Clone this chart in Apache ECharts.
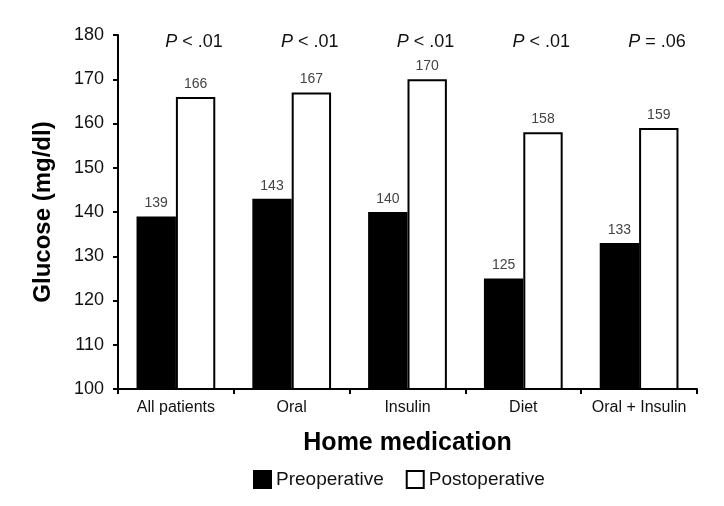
<!DOCTYPE html>
<html><head><meta charset="utf-8">
<script src="https://cdn.jsdelivr.net/npm/echarts@6/dist/echarts.min.js"></script>
<style>html,body{margin:0;padding:0;background:#fff}#c{width:724px;height:506px}</style>
</head><body><div id="c"></div>
<script>
const categories = ['All patients', 'Oral', 'Insulin', 'Diet', 'Oral + Insulin'];
const preoperative = [139, 143, 140, 125, 133];
const postoperative = [166, 167, 170, 158, 159];
const pValues = ['< .01', '< .01', '< .01', '< .01', '= .06'];
const yTicks = [100, 110, 120, 130, 140, 150, 160, 170, 180];

const FONT = '"Liberation Sans", Arial, sans-serif';
const chart = echarts.init(document.getElementById('c'));
chart.setOption({
  animation: false,
  textStyle: { fontFamily: FONT },
  grid: { left: 118, right: 27, top: 35, bottom: 117 },
  legend: {
    bottom: 12, left: 248, itemWidth: 17, itemHeight: 17, itemGap: 22,
    icon: 'rect',
    textStyle: { fontSize: 19, color: '#111', fontFamily: FONT },
    data: ['Preoperative', 'Postoperative']
  },
  xAxis: [{
    type: 'category', data: categories,
    name: 'Home medication', nameLocation: 'middle', nameGap: 42,
    nameTextStyle: { fontSize: 25, fontWeight: 'bold', color: '#000', fontFamily: FONT },
    axisLine: { lineStyle: { color: '#000', width: 2 } },
    axisTick: { show: true, interval: 0, length: 5, lineStyle: { color: '#000', width: 2 } },
    axisLabel: { interval: 0, fontSize: 16, color: '#111', margin: 11, hideOverlap: false }
  }, {
    type: 'category', data: pValues, position: 'top',
    axisLine: { show: false }, axisTick: { show: false },
    axisLabel: {
      interval: 0,
      margin: -16, fontSize: 18, color: '#111',
      padding: [0, 0, 0, 36],
      formatter: v => '{p|P} ' + v,
      rich: { p: { fontStyle: 'italic', fontSize: 18, color: '#111' } }
    }
  }],
  yAxis: {
    type: 'value', min: yTicks[0], max: yTicks[yTicks.length - 1], interval: 10,
    name: 'Glucose (mg/dl)', nameLocation: 'middle', nameGap: 63,
    nameTextStyle: { fontSize: 24, fontWeight: 'bold', color: '#000', fontFamily: FONT },
    axisLine: { show: true, lineStyle: { color: '#000', width: 2 } },
    axisTick: { show: true, length: 5, lineStyle: { color: '#000', width: 2 } },
    axisLabel: { fontSize: 18, color: '#111', margin: 14 },
    splitLine: { show: false }
  },
  series: [{
    name: 'Preoperative', type: 'bar', data: preoperative,
    barGap: '0%', barCategoryGap: '32%',
    itemStyle: { color: '#000', borderColor: '#000', borderWidth: 1.5 },
    label: { show: true, position: 'top', fontSize: 14, color: '#444', distance: 6 }
  }, {
    name: 'Postoperative', type: 'bar', data: postoperative,
    barGap: '0%', barCategoryGap: '32%',
    itemStyle: { color: '#fff', borderColor: '#000', borderWidth: 2 },
    label: { show: true, position: 'top', fontSize: 14, color: '#444', distance: 6 }
  }]
});
</script></body></html>
